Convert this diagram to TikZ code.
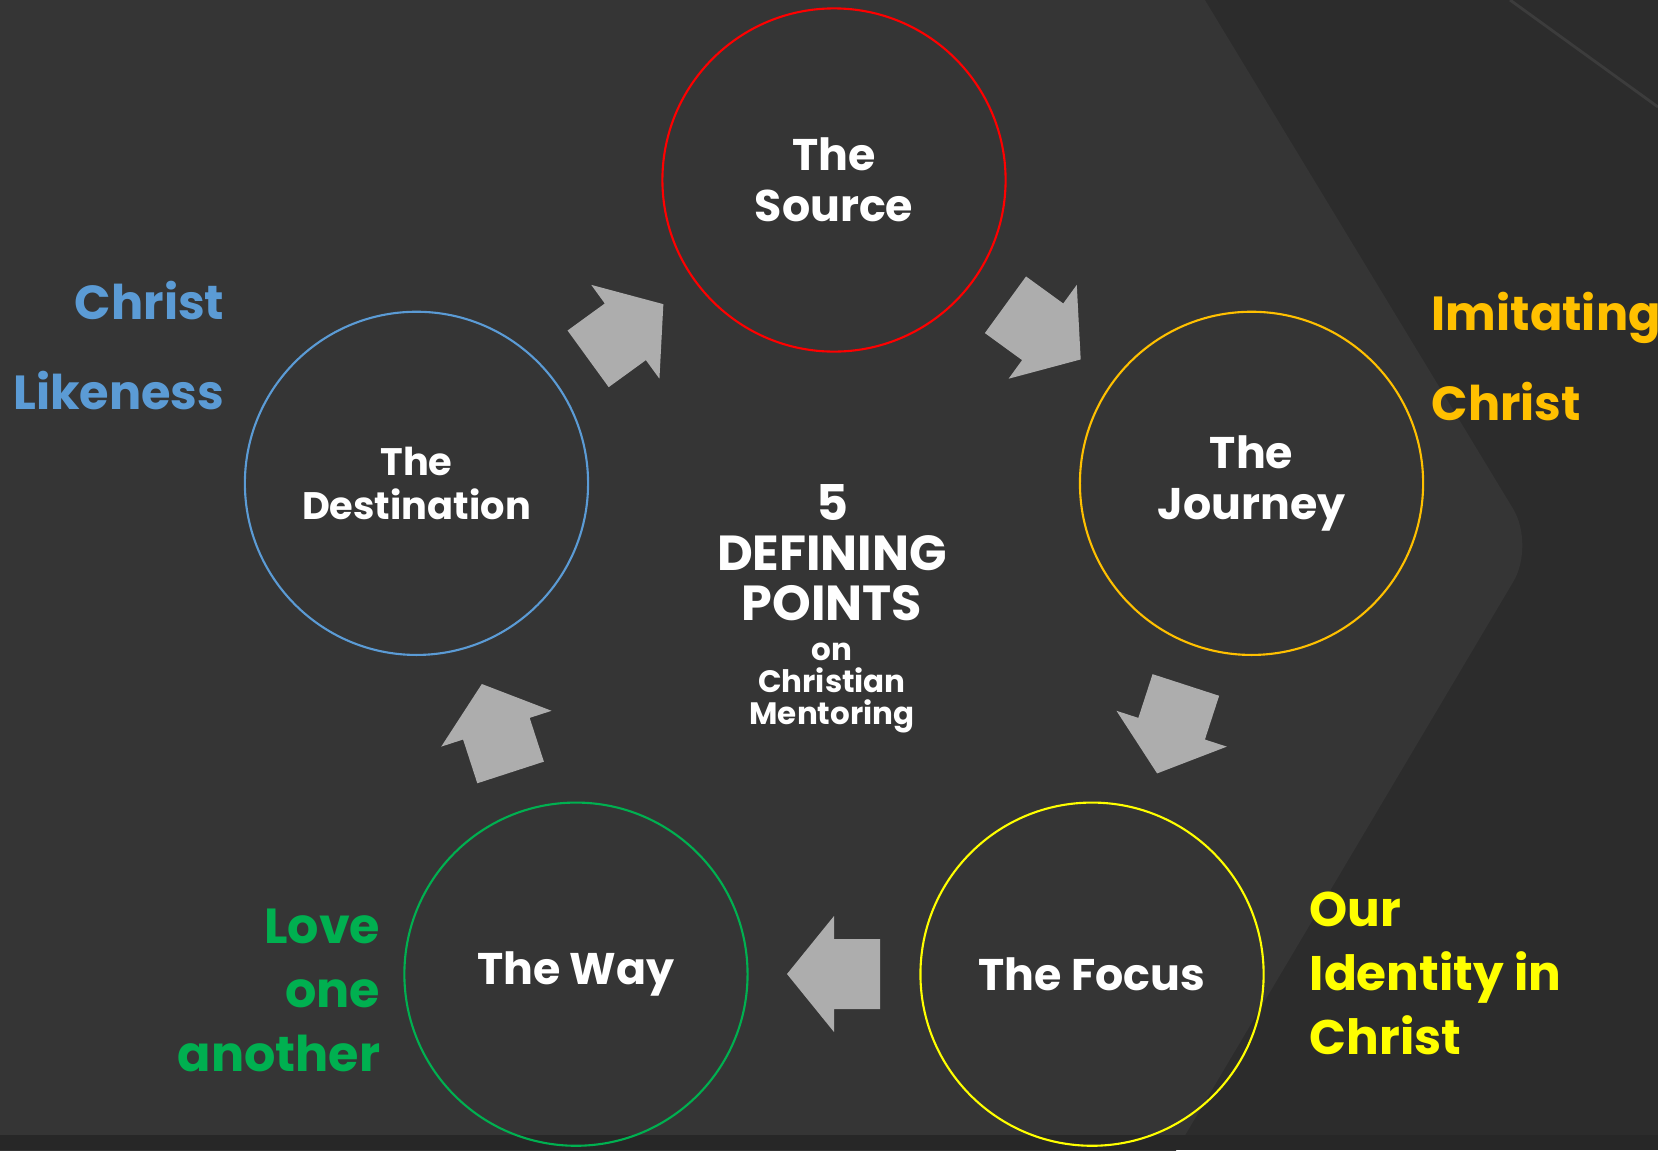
\documentclass[tikz,border=0pt]{standalone}
\usepackage{fontspec}
\setmainfont{Poppins}
\usetikzlibrary{positioning}
\definecolor{bgdark}{HTML}{2C2C2C}
\definecolor{bgpanel}{HTML}{353535}
\definecolor{bgstrip}{HTML}{272727}
\definecolor{bgline}{HTML}{3C3C3C}
\definecolor{arrowgrey}{HTML}{ADADAD}
\definecolor{srcred}{HTML}{FF0000}
\definecolor{jrnorange}{HTML}{FFC000}
\definecolor{focusyellow}{HTML}{FFFF00}
\definecolor{waygreen}{HTML}{00B050}
\definecolor{destblue}{HTML}{5B9BD5}
\tikzset{
  ring/.style={circle,draw=#1,line width=0.6pt,minimum size=3.43cm,inner sep=0pt,
    align=center,text=white,font=\bfseries\fontsize{12.6}{14.5}\selectfont},
  lbl/.style={inner sep=0pt,text=#1,font=\bfseries\fontsize{13.6}{25.6}\selectfont}
}
\begin{document}
\begin{tikzpicture}[x=0.01cm,y=0.01cm]
  \useasboundingbox (0,0) rectangle (1658,1150);
  % background
  \fill[bgdark] (0,0) rectangle (1658,1150);
  \fill[bgpanel,rounded corners=12pt] (-200,-100) -- (-200,1300) -- (1114,1300) -- (1535,605) -- (1117,-100) -- cycle;
  \fill[bgstrip] (0,0) rectangle (1658,15);
  \draw[bgline,line width=0.8pt] (1510,1150) -- (1658,1043);
  % the five points round the centre
  \begin{scope}[shift={(834,531)}]
    \node[ring=srcred] (source) at (90:439) {The\\Source};
    \node[ring=jrnorange] (journey) at (18:439) {The\\Journey};
    \node[ring=focusyellow] (focus) at (-54:439) {The Focus};
    \node[ring=waygreen] (way) at (-126:439) {The Way};
    \node[ring=destblue,font=\bfseries\fontsize{10.9}{12.5}\selectfont] (dest) at (162:439) {The\\Destination};
    \foreach \a in {54,-18,-90,-162,126}
      \fill[arrowgrey,shift={(\a:355)},rotate=\a-90] (-46,-35) -- (0,-35) -- (0,-58) -- (47,0) -- (0,58) -- (0,35) -- (-46,35) -- cycle;
  \end{scope}
  % centre text
  \node[align=center,text=white,inner sep=0pt,font=\bfseries\fontsize{14}{14.2}\selectfont] (title) at (832,597) {5\\DEFINING\\POINTS};
  \node[below=2mm of title,align=center,text=white,inner sep=0pt,font=\bfseries\fontsize{8.8}{9.2}\selectfont] (subtitle) {on\\Christian\\Mentoring};
  % labels outside
  \node[lbl=destblue,align=right,anchor=east] (likeness) at (225,804) {Christ\\Likeness};
  \node[lbl=jrnorange,align=left,anchor=west] (imitating) at (1431,793) {Imitating\\Christ};
  \node[lbl=waygreen,align=right,anchor=east,font=\bfseries\fontsize{14}{18.2}\selectfont] (love) at (381,160) {Love\\one\\another};
  \node[lbl=focusyellow,align=left,anchor=west,font=\bfseries\fontsize{13.8}{18.2}\selectfont] (identity) at (1309,177) {Our\\Identity in\\Christ};
\end{tikzpicture}
\end{document}
